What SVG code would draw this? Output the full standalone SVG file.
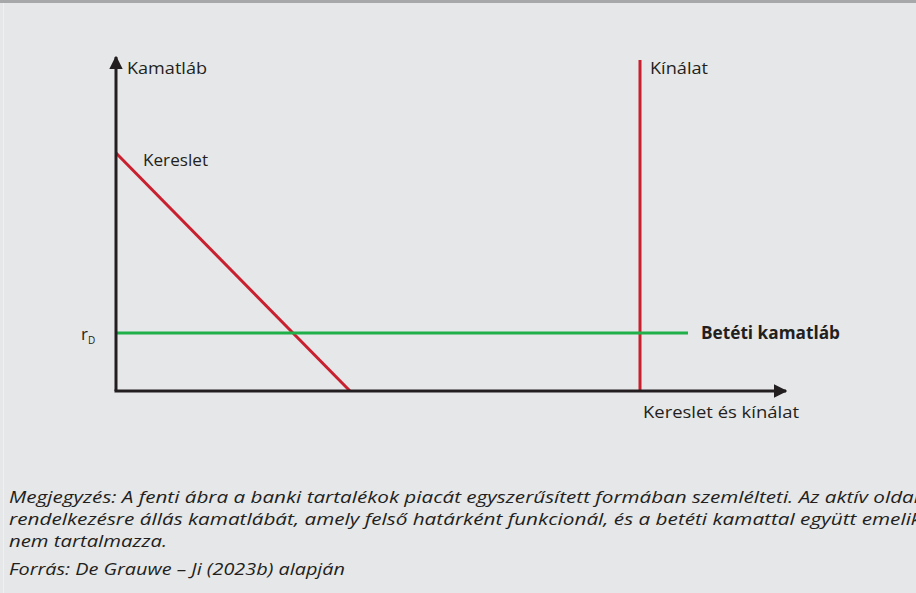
<svg xmlns="http://www.w3.org/2000/svg" width="916" height="593" viewBox="0 0 916 593">
<style>
.t{font-family:"Open Sans","Liberation Sans",sans-serif;font-size:17px;fill:#231f20}
.b{font-weight:bold}
.n{font-family:"Open Sans","Liberation Sans",sans-serif;font-size:16.5px;font-style:italic;fill:#231f20}
.ax{stroke:#231f20;stroke-width:3;fill:none}
.red{stroke:#c8202f;stroke-width:3;fill:none}
.grn{stroke:#1fb04a;stroke-width:3;fill:none}
</style>
<defs>
<marker id="arr" viewBox="0 0 10 10" refX="9" refY="5" markerWidth="4.5" markerHeight="4.5" orient="auto" markerUnits="strokeWidth">
<path d="M0,0 L10,5 L0,10 z" fill="#231f20"/>
</marker>
</defs>
<rect x="0" y="0" width="916" height="593" fill="#e6e7e9"/>
<rect x="0" y="0" width="916" height="3" fill="#a7a8aa"/>
<line x1="3.5" y1="3" x2="3.5" y2="593" stroke="#f0f0f2" stroke-width="1"/>
<g id="connectors">
<line id="demand" class="red" x1="116" y1="153" x2="350" y2="391"/>
<line id="supply" class="red" x1="640" y1="60" x2="640" y2="391"/>
<line id="rate" class="grn" x1="116" y1="333" x2="688" y2="333"/>
<path id="yaxis" class="ax" d="M116,391 V57" marker-end="url(#arr)"/>
<path id="xaxis" class="ax" d="M114.5,391 H786" marker-end="url(#arr)"/>
</g>
<g id="labels">
<text class="t" x="127" y="74" textLength="80" lengthAdjust="spacingAndGlyphs">Kamatláb</text>
<text class="t" x="143" y="166" textLength="65" lengthAdjust="spacingAndGlyphs">Kereslet</text>
<text class="t" x="650" y="74" textLength="58" lengthAdjust="spacingAndGlyphs">Kínálat</text>
<text class="t b" x="701" y="339" textLength="139" lengthAdjust="spacingAndGlyphs">Betéti kamatláb</text>
<text class="t" x="643" y="418" textLength="156" lengthAdjust="spacingAndGlyphs">Kereslet és kínálat</text>
<text class="t" x="81" y="340">r<tspan font-size="10" dy="4">D</tspan></text>
</g>
<g id="note">
<text class="n" x="9" y="503" textLength="910" lengthAdjust="spacingAndGlyphs">Megjegyzés: A fenti ábra a banki tartalékok piacát egyszerűsített formában szemlélteti. Az aktív oldal</text>
<text class="n" x="9" y="525" textLength="912" lengthAdjust="spacingAndGlyphs">rendelkezésre állás kamatlábát, amely felső határként funkcionál, és a betéti kamattal együtt emelik</text>
<text class="n" x="9" y="547" textLength="158" lengthAdjust="spacingAndGlyphs">nem tartalmazza.</text>
<text class="n" x="9" y="575" textLength="336" lengthAdjust="spacingAndGlyphs">Forrás: De Grauwe – Ji (2023b) alapján</text>
</g>
</svg>
